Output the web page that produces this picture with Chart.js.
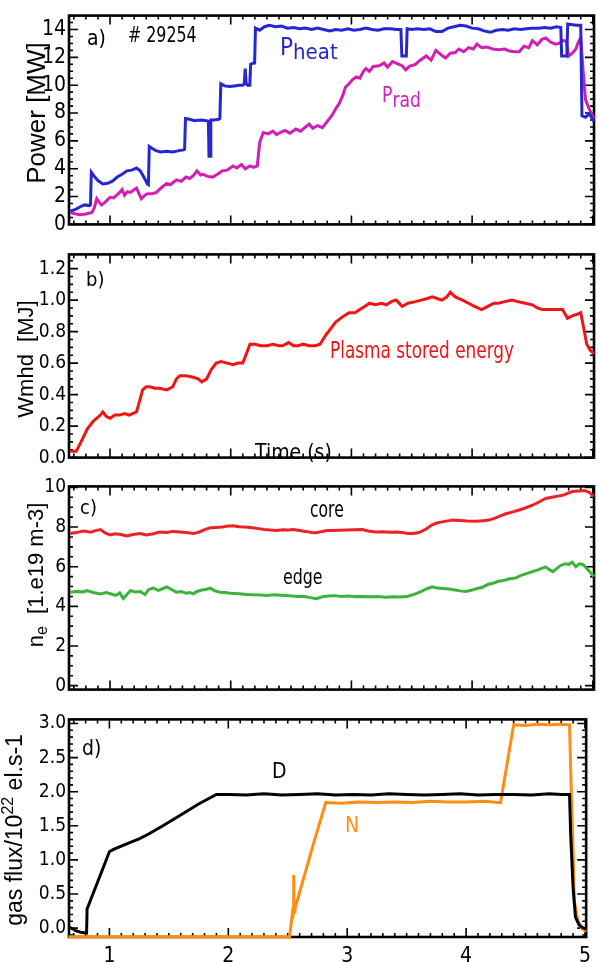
<!DOCTYPE html>
<html>
<head>
<meta charset="utf-8">
<script src="https://cdn.jsdelivr.net/npm/chart.js@4.4.1/dist/chart.umd.min.js"></script>
<style>
  html, body { margin: 0; padding: 0; background: #fff; width: 598px; height: 962px; overflow: hidden; }
  canvas { position: absolute; left: 0; }
</style>
</head>
<body>
<canvas id="pa" width="598" height="240" style="top:0px"></canvas>
<canvas id="pb" width="598" height="232" style="top:240px"></canvas>
<canvas id="pc" width="598" height="232" style="top:472px"></canvas>
<canvas id="pd" width="598" height="257" style="top:705px"></canvas>
<script>
// shot #29254 - time traces (s)
const xTicks = [1, 2, 3, 4, 5];

// a) heating and radiated power [MW]
const tHeat = [0.67,0.72,0.76,0.79,0.83,0.838,0.845,0.87,0.90,0.94,0.98,1.02,1.06,1.10,1.14,1.18,1.22,1.25,1.28,1.31,1.318,1.325,1.35,1.38,1.42,1.47,1.52,1.57,1.61,1.618,1.625,1.66,1.70,1.75,1.80,1.815,1.82,1.83,1.835,1.86,1.90,1.91,1.918,1.95,1.99,2.03,2.07,2.10,2.112,2.12,2.128,2.14,2.158,2.165,2.19,2.198,2.205,2.24,2.28,2.32,2.37,2.42,2.47,2.52,2.57,2.62,2.67,2.72,2.77,2.82,2.87,2.92,2.97,3.02,3.07,3.12,3.17,3.22,3.27,3.32,3.38,3.41,3.418,3.455,3.462,3.50,3.55,3.60,3.65,3.70,3.75,3.80,3.85,3.90,3.95,4.00,4.05,4.10,4.15,4.20,4.25,4.30,4.35,4.40,4.45,4.50,4.55,4.60,4.65,4.70,4.735,4.742,4.785,4.792,4.83,4.87,4.90,4.91,4.94,4.97,5.01];
const pHeat = [0.95,1.1,1.3,1.4,1.35,1.4,3.75,3.45,3.15,2.9,2.95,3.1,3.4,3.6,3.85,3.9,4.05,3.85,3.4,2.9,2.85,5.6,5.45,5.3,5.2,5.25,5.2,5.3,5.35,5.4,7.6,7.55,7.45,7.5,7.45,7.4,4.9,4.9,7.5,7.5,7.55,7.6,10.1,9.95,9.9,9.95,10.0,10.0,10.1,11.2,10.1,10.0,10.0,11.5,11.6,11.6,14.1,13.95,14.2,14.3,14.2,14.25,14.1,14.15,14.05,14.1,14.0,14.1,14.0,13.9,14.0,13.95,14.05,13.95,14.0,14.1,14.0,13.95,14.05,14.05,14.0,14.0,12.1,12.1,14.05,14.0,14.05,14.0,14.05,13.85,13.85,14.1,14.2,14.3,14.25,14.1,14.05,13.9,13.8,13.95,14.0,13.95,14.05,14.0,14.05,14.1,14.1,14.15,14.1,14.2,14.15,12.1,12.1,14.4,14.35,14.3,14.3,7.8,7.7,7.95,7.4];
const tRad = [0.67,0.72,0.75,0.80,0.85,0.87,0.89,0.91,0.93,0.96,1.00,1.03,1.055,1.08,1.10,1.12,1.145,1.17,1.20,1.22,1.24,1.26,1.29,1.31,1.35,1.385,1.42,1.47,1.50,1.55,1.59,1.63,1.66,1.69,1.72,1.75,1.77,1.81,1.85,1.89,1.93,1.97,2.02,2.05,2.09,2.12,2.16,2.19,2.22,2.24,2.27,2.31,2.35,2.38,2.41,2.45,2.49,2.54,2.58,2.62,2.65,2.68,2.72,2.76,2.80,2.84,2.87,2.90,2.93,2.95,2.98,3.01,3.04,3.07,3.10,3.12,3.15,3.18,3.23,3.27,3.30,3.34,3.38,3.42,3.45,3.48,3.53,3.57,3.62,3.66,3.70,3.74,3.78,3.82,3.86,3.89,3.93,3.97,4.01,4.04,4.08,4.12,4.17,4.22,4.27,4.31,4.35,4.39,4.43,4.47,4.50,4.54,4.58,4.61,4.65,4.69,4.72,4.75,4.78,4.80,4.83,4.86,4.88,4.90,4.92,4.94,4.97,5.01];
const pRad = [0.85,0.75,0.7,0.75,0.85,1.2,1.85,1.6,1.4,1.6,1.95,1.9,2.1,2.3,2.5,2.1,2.35,2.3,2.5,2.6,2.2,1.85,2.1,2.2,2.2,2.3,2.6,2.95,2.85,3.2,3.1,3.4,3.3,3.5,3.85,3.55,3.6,3.45,3.4,3.6,3.85,3.9,4.2,4.05,4.3,4.0,4.2,4.1,4.2,5.9,6.6,6.5,6.7,6.45,6.6,6.75,6.55,6.85,6.7,7.0,7.2,6.9,7.1,6.95,7.4,7.85,8.3,8.7,9.3,9.85,10.1,10.4,10.6,10.5,11.0,11.2,11.0,11.35,11.4,11.6,11.3,11.7,11.55,11.4,11.1,11.35,11.5,11.8,12.1,11.8,12.5,12.2,11.95,12.3,12.35,12.6,12.4,12.7,12.6,12.95,12.7,12.75,12.6,12.55,12.6,12.45,12.4,12.4,12.8,12.7,13.2,12.9,13.3,13.4,13.1,12.95,13.0,13.2,13.2,12.1,12.3,12.6,13.1,13.4,11.0,8.95,8.3,7.6];
const yTicksA = [0, 2, 4, 6, 8, 10, 12, 14];

// b) plasma stored energy [MJ]
const tW = [0.67,0.72,0.76,0.81,0.86,0.92,0.94,0.97,1.00,1.04,1.08,1.12,1.16,1.19,1.22,1.245,1.27,1.30,1.33,1.37,1.41,1.47,1.52,1.55,1.58,1.63,1.69,1.73,1.76,1.80,1.84,1.88,1.92,1.97,2.02,2.06,2.10,2.13,2.16,2.20,2.25,2.30,2.35,2.40,2.43,2.48,2.52,2.56,2.60,2.65,2.70,2.74,2.79,2.83,2.87,2.92,2.98,3.03,3.07,3.11,3.15,3.20,3.25,3.29,3.33,3.37,3.42,3.47,3.53,3.58,3.63,3.67,3.71,3.75,3.79,3.82,3.86,3.92,3.97,4.02,4.08,4.13,4.18,4.22,4.27,4.33,4.38,4.44,4.50,4.54,4.58,4.63,4.69,4.75,4.79,4.83,4.87,4.90,4.93,4.95,4.98,5.01];
const wmhd = [0.04,0.04,0.10,0.18,0.23,0.27,0.29,0.26,0.25,0.27,0.27,0.28,0.27,0.28,0.29,0.36,0.43,0.45,0.45,0.44,0.44,0.43,0.45,0.50,0.52,0.52,0.51,0.50,0.48,0.50,0.56,0.60,0.61,0.60,0.59,0.60,0.60,0.66,0.72,0.72,0.71,0.71,0.72,0.71,0.71,0.73,0.71,0.71,0.72,0.71,0.71,0.72,0.78,0.82,0.86,0.89,0.92,0.92,0.94,0.96,0.98,0.97,0.98,0.97,0.99,1.00,0.96,0.98,0.99,1.00,1.01,1.02,1.01,1.00,1.02,1.05,1.02,1.00,0.98,0.96,0.94,0.96,0.98,0.98,0.99,1.00,0.99,0.98,0.97,0.95,0.94,0.94,0.94,0.94,0.885,0.90,0.91,0.92,0.80,0.72,0.68,0.66];
const yTicksB = [0, 0.2, 0.4, 0.6, 0.8, 1.0, 1.2];

// c) line averaged density [1e19 m-3]
const tCore = [0.67,0.72,0.78,0.84,0.88,0.92,0.96,1.00,1.04,1.09,1.14,1.19,1.25,1.30,1.36,1.41,1.47,1.52,1.58,1.63,1.69,1.74,1.79,1.83,1.88,1.93,1.98,2.02,2.07,2.12,2.18,2.23,2.28,2.33,2.38,2.43,2.48,2.52,2.57,2.62,2.67,2.71,2.76,2.80,2.84,2.90,2.96,3.02,3.09,3.14,3.20,3.26,3.32,3.37,3.42,3.47,3.51,3.56,3.62,3.66,3.70,3.75,3.80,3.84,3.90,3.96,4.03,4.09,4.14,4.19,4.24,4.28,4.33,4.39,4.44,4.50,4.55,4.61,4.66,4.71,4.75,4.79,4.83,4.88,4.93,4.97,5.01];
const neCore = [7.67,7.72,7.8,7.74,7.82,7.87,7.7,7.6,7.66,7.62,7.55,7.62,7.67,7.6,7.66,7.75,7.72,7.78,7.75,7.72,7.67,7.75,7.88,7.96,7.98,8.0,8.05,8.07,8.02,8.0,7.96,7.92,7.88,7.85,7.83,7.86,7.85,7.87,7.83,7.78,7.72,7.71,7.78,7.82,7.83,7.84,7.85,7.86,7.87,7.8,7.75,7.76,7.74,7.75,7.72,7.68,7.67,7.72,7.9,8.08,8.19,8.26,8.31,8.35,8.33,8.3,8.29,8.32,8.35,8.45,8.58,8.67,8.75,8.86,8.96,9.1,9.25,9.44,9.5,9.56,9.6,9.7,9.79,9.82,9.84,9.75,9.55];
const tEdge = [0.67,0.72,0.77,0.81,0.86,0.92,0.97,1.01,1.05,1.08,1.11,1.14,1.17,1.21,1.25,1.29,1.32,1.36,1.40,1.44,1.47,1.51,1.55,1.59,1.63,1.66,1.69,1.72,1.76,1.80,1.83,1.87,1.91,1.95,2.00,2.07,2.13,2.19,2.25,2.30,2.36,2.41,2.46,2.51,2.56,2.61,2.66,2.71,2.76,2.81,2.86,2.92,2.98,3.04,3.10,3.16,3.22,3.28,3.34,3.40,3.46,3.53,3.58,3.63,3.67,3.71,3.76,3.81,3.86,3.90,3.95,4.00,4.04,4.08,4.13,4.18,4.22,4.26,4.30,4.36,4.40,4.45,4.50,4.55,4.61,4.64,4.67,4.70,4.73,4.77,4.80,4.83,4.86,4.89,4.92,4.96,5.01];
const neEdge = [4.71,4.75,4.73,4.79,4.7,4.63,4.7,4.62,4.55,4.68,4.39,4.6,4.8,4.72,4.75,4.6,4.85,4.92,4.8,4.9,4.98,4.85,4.71,4.75,4.66,4.7,4.63,4.75,4.82,4.86,4.92,4.78,4.71,4.7,4.66,4.63,4.6,4.58,4.57,4.55,4.58,4.56,4.55,4.52,4.5,4.5,4.44,4.39,4.48,4.52,4.54,4.5,4.52,4.49,4.5,4.48,4.5,4.46,4.48,4.47,4.5,4.63,4.75,4.9,4.98,4.92,4.9,4.87,4.82,4.78,4.75,4.82,4.9,4.95,5.1,5.18,5.27,5.3,5.38,5.43,5.55,5.65,5.75,5.85,5.99,5.85,5.75,5.9,6.05,6.15,6.12,6.23,5.99,6.15,6.1,5.85,5.5];
const yTicksC = [0, 2, 4, 6, 8, 10];

// d) gas injection [1e22 el/s]
const tD = [0.656,0.69,0.72,0.76,0.80,0.808,0.812,1.00,1.03,1.15,1.25,1.33,1.45,1.61,1.75,1.90,2.00,2.15,2.30,2.45,2.60,2.75,2.90,3.05,3.20,3.35,3.50,3.65,3.80,3.95,4.10,4.25,4.40,4.55,4.70,4.80,4.87,4.88,4.90,4.92,4.95,4.97,5.01];
const fluxD = [0.02,-0.01,-0.04,-0.06,-0.07,-0.07,0.28,1.12,1.15,1.24,1.31,1.38,1.5,1.67,1.82,1.96,1.96,1.95,1.97,1.95,1.96,1.97,1.95,1.96,1.95,1.97,1.96,1.95,1.96,1.97,1.95,1.96,1.96,1.95,1.97,1.96,1.96,1.36,0.59,0.16,0.05,0.02,-0.02];
const tN = [0.656,1.5,2.0,2.515,2.545,2.55,2.553,2.56,2.72,2.82,2.95,3.1,3.25,3.4,3.55,3.7,3.85,4.0,4.15,4.29,4.40,4.5,4.6,4.7,4.8,4.87,4.88,4.90,4.91,4.94,4.97,5.01];
const fluxN = [-0.125,-0.125,-0.125,-0.125,0.3,0.78,0.3,0.28,1.26,1.84,1.83,1.85,1.84,1.85,1.84,1.86,1.85,1.85,1.86,1.84,2.98,2.97,2.99,2.98,2.99,2.98,2.31,1.12,0.40,0.11,0.0,-0.05];
const yTicksD = [0, 0.5, 1.0, 1.5, 2.0, 2.5, 3.0];

const NARROW = '"Liberation Sans Narrow", "DejaVu Sans Condensed", "Liberation Sans", sans-serif';
const REGULAR = '"Liberation Sans", "DejaVu Sans", sans-serif';

const pts = (t, v) => t.map((x, i) => ({ x: x, y: v[i] }));
const line = (t, v, color) => ({ data: pts(t, v), borderColor: color, borderWidth: 3, pointRadius: 0, tension: 0, fill: false, clip: 6 });

// black frame with inward major/minor ticks on all four sides
const framePlugin = {
  id: 'frame',
  beforeDatasetsDraw(chart) {
    const { ctx, chartArea: a, scales: { x, y } } = chart;
    const f = chart.options.plugins.frame;
    ctx.save();
    ctx.strokeStyle = '#000';
    ctx.lineWidth = 1.6;
    ctx.beginPath();
    for (let i = Math.ceil(x.min * 10); i <= Math.floor(x.max * 10); i++) {
      const px = x.getPixelForValue(i / 10);
      const len = i % 10 === 0 ? 9 : 4;
      ctx.moveTo(px, a.bottom); ctx.lineTo(px, a.bottom - len);
      ctx.moveTo(px, a.top); ctx.lineTo(px, a.top + len);
    }
    const n0 = Math.ceil(y.min / f.minor - 1e-6), n1 = Math.floor(y.max / f.minor + 1e-6);
    const per = Math.round(f.major / f.minor);
    for (let i = n0; i <= n1; i++) {
      const py = y.getPixelForValue(i * f.minor);
      const len = i % per === 0 ? 9 : 4;
      ctx.moveTo(a.left, py); ctx.lineTo(a.left + len, py);
      ctx.moveTo(a.right, py); ctx.lineTo(a.right - len, py);
    }
    ctx.stroke();
    ctx.lineWidth = 2.6;
    ctx.strokeRect(a.left, a.top, a.right - a.left, a.bottom - a.top);
    ctx.restore();
  }
};

// free text in page coordinates; runs allow sub/superscripts, sx squeezes width
const notesPlugin = {
  id: 'notes',
  afterDraw(chart) {
    const { ctx } = chart;
    const off = chart.options.plugins.notes.top;
    ctx.save();
    ctx.textBaseline = 'alphabetic';
    ctx.textAlign = 'left';
    chart.options.plugins.notes.items.forEach(n => {
      ctx.save();
      ctx.fillStyle = n.color || '#000';
      const runs = n.runs || [{ t: n.t, size: n.size, dy: 0 }];
      const fam = n.family || NARROW;
      let total = 0;
      runs.forEach(r => { ctx.font = r.size + 'px ' + fam; total += ctx.measureText(r.t).width; });
      ctx.translate(n.x, n.y - off);
      if (n.rotate) ctx.rotate(-Math.PI / 2);
      if (n.sx) ctx.scale(n.sx, 1);
      let cx = n.center ? -total / 2 : 0;
      runs.forEach(r => {
        ctx.font = r.size + 'px ' + fam;
        ctx.fillText(r.t, cx, r.dy || 0);
        cx += ctx.measureText(r.t).width;
      });
      ctx.restore();
    });
    ctx.restore();
  }
};

function panel(id, top, pad, xh, showX, yMin, yMax, yTicks, dec, fontSize, minor, major, datasets, items) {
  return new Chart(document.getElementById(id), {
    type: 'line',
    data: { datasets: datasets },
    options: {
      responsive: false,
      animation: false,
      layout: { padding: { top: pad[0], right: 4, bottom: pad[1], left: 0 } },
      plugins: {
        legend: { display: false },
        tooltip: { enabled: false },
        frame: { minor: minor, major: major },
        notes: { top: top, items: items }
      },
      scales: {
        x: {
          type: 'linear', min: 0.66, max: 5.01,
          grid: { display: false, drawTicks: false }, border: { display: false },
          ticks: { display: showX, color: '#000', padding: 7, font: { family: NARROW, size: 21 } },
          afterBuildTicks: s => { s.ticks = xTicks.map(v => ({ value: v })); },
          afterFit: s => { s.height = xh; }
        },
        y: {
          min: yMin, max: yMax,
          grid: { display: false, drawTicks: false }, border: { display: false },
          ticks: { color: '#000', padding: 3, font: { family: NARROW, size: fontSize }, callback: v => v.toFixed(dec) },
          afterBuildTicks: s => { s.ticks = yTicks.map(v => ({ value: v })); },
          afterFit: s => { s.width = 69; }
        }
      }
    },
    plugins: [framePlugin, notesPlugin]
  });
}

panel('pa', 0, [6, 10], 0, false, 0, 15, yTicksA, 0, 21, 0.5, 2, [
  line(tHeat, pHeat, '#2626d4'),
  line(tRad, pRad, '#d21eb4')
], [
  { t: 'a)', x: 87, y: 45, size: 21 },
  { t: '# 29254', x: 128, y: 42, size: 22, sx: 0.8 },
  { runs: [{ t: 'P', size: 24 }, { t: 'heat', size: 22, dy: 3.5 }], x: 280, y: 55, color: '#2626d4' },
  { runs: [{ t: 'P', size: 22 }, { t: 'rad', size: 22, dy: 5 }], x: 382, y: 102, color: '#d21eb4', sx: 0.87 },
  { t: 'Power [MW]', size: 26, family: REGULAR, x: 45, y: 113, rotate: true, center: true }
]);

panel('pb', 240, [5, 5], 0, false, 0, 1.29, yTicksB, 1, 19, 0.05, 0.2, [
  line(tW, wmhd, '#f01414')
], [
  { t: 'b)', x: 86, y: 286, size: 20 },
  { t: 'Plasma stored energy', x: 330, y: 358, size: 23.5, sx: 0.8, color: '#f01414' },
  { t: 'Time (s)', x: 255, y: 459, size: 21 },
  { t: 'Wmhd  [MJ]', size: 22, family: REGULAR, x: 33, y: 359, rotate: true, center: true }
]);

panel('pc', 472, [12, 7], 0, false, -0.2, 10.05, yTicksC, 0, 19, 0.5, 2, [
  line(tCore, neCore, '#ee2222'),
  line(tEdge, neEdge, '#3cb43c')
], [
  { t: 'c)', x: 80, y: 514, size: 20 },
  { t: 'core', x: 310, y: 517, size: 22.5, sx: 0.77 },
  { t: 'edge', x: 283, y: 584, size: 22, sx: 0.8 },
  { runs: [{ t: 'n', size: 22 }, { t: 'e', size: 16, dy: 4 }, { t: '  [1.e19 m-3]', size: 22 }], family: REGULAR, x: 43, y: 575, rotate: true, center: true }
]);

panel('pd', 705, [10, 0], 25, true, -0.13, 3.06, yTicksD, 1, 19, 0.1, 0.5, [
  line(tD, fluxD, '#000000'),
  line(tN, fluxN, '#ff8c14')
], [
  { t: 'd)', x: 82, y: 755, size: 21 },
  { t: 'D', x: 272, y: 778, size: 21 },
  { t: 'N', x: 345, y: 832, size: 21, color: '#ff8c14' },
  { runs: [{ t: 'gas flux/10', size: 23 }, { t: '22', size: 16, dy: -9 }, { t: ' el.s-1', size: 23 }], family: REGULAR, x: 22, y: 830, rotate: true, center: true }
]);
</script>
</body>
</html>
